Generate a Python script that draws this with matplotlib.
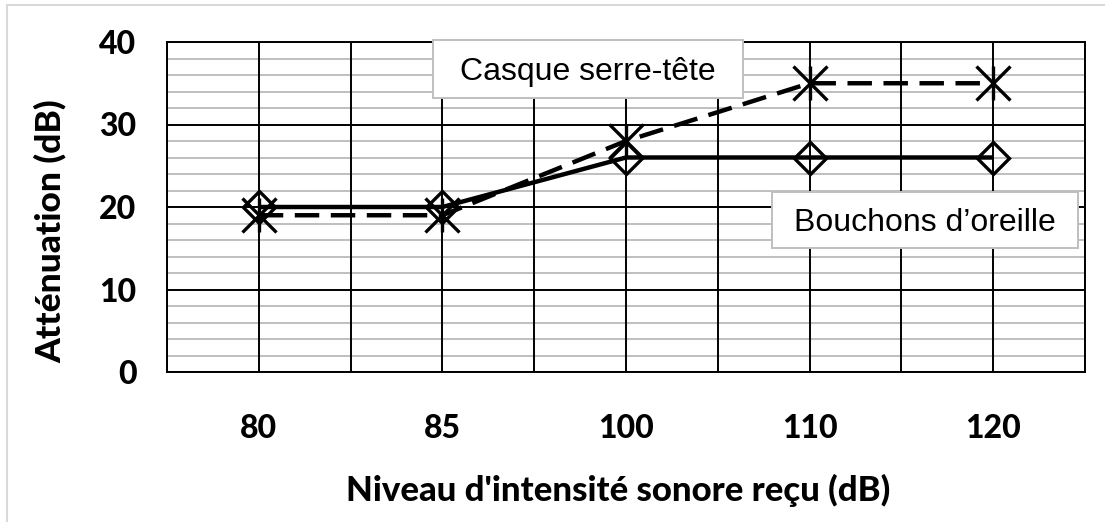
import matplotlib
matplotlib.use("Agg")
import matplotlib.pyplot as plt
from matplotlib.patches import Rectangle
from matplotlib.lines import Line2D
import numpy as np

categories = ["80", "85", "100", "110", "120"]
bouchons = [20, 20, 26, 26, 26]
casque = [19, 19, 28, 35, 35]
y_ticks = [0, 10, 20, 30, 40]
label_bouchons = "Bouchons d\u2019oreille"
label_casque = "Casque serre-tête"
x_title = "Niveau d'intensité sonore reçu (dB)"
y_title = "Atténuation (dB)"

W, H = 1105, 522
fig = plt.figure(figsize=(W / 100, H / 100), dpi=100)
L, R, B, T = 167, 1085, 372, 42
ax = fig.add_axes([L / W, 1 - B / H, (R - L) / W, (B - T) / H])

x = np.arange(len(categories))
ax.set_xlim(-0.5, len(categories) - 0.5)
ax.set_ylim(0, 40)

# grid
for yy in np.arange(0, 41, 2):
    if yy % 10 == 0:
        ax.axhline(yy, color="black", lw=1.4, zorder=2)
    else:
        ax.axhline(yy, color="#bfbfbf", lw=1.4, zorder=1)
for xx in np.arange(-0.5, len(categories), 0.5):
    ax.axvline(xx, color="black", lw=1.4, zorder=2)

for s in ax.spines.values():
    s.set_color("black")
    s.set_linewidth(1.4)

ax.plot(x, bouchons, color="black", lw=3.2, marker="D", markersize=16,
        markerfacecolor="none", markeredgecolor="black", markeredgewidth=2.4, zorder=6,
        solid_capstyle="butt")
ax.plot(x, casque, color="black", lw=3.2, linestyle=(0, (5.5, 2.6)), marker="x",
        markersize=24, markeredgewidth=2.4, zorder=6)
ax.plot(x, casque, linestyle="none", marker="|", color="black",
        markersize=24, markeredgewidth=2.4, zorder=6)

FW = 900
ax.set_xticks(x)
ax.set_xticklabels(categories)
ax.set_yticks(y_ticks)
ax.set_yticklabels([str(v) for v in y_ticks])
ax.tick_params(axis="both", length=0, labelsize=23)
ax.tick_params(axis="y", pad=22)
ax.tick_params(axis="x", pad=30)
for lab in ax.get_xticklabels() + ax.get_yticklabels():
    lab.set_fontfamily("Lato")
    lab.set_fontweight(FW)

fig.text(618 / W, 1 - 490 / H, x_title, ha="center", va="center",
         fontsize=25, fontweight=FW, family="Lato")
fig.text(50 / W, 1 - 231 / H, y_title, ha="center", va="center", rotation=90,
         fontsize=25.5, fontweight=FW, family="Lato")

# text boxes
def box(x0, x1, y0, y1, text):
    fx0, fx1 = (x0 - L) / (R - L), (x1 - L) / (R - L)
    fy0, fy1 = (B - y1) / (B - T), (B - y0) / (B - T)
    ax.add_patch(Rectangle((fx0, fy0), fx1 - fx0, fy1 - fy0, transform=ax.transAxes,
                           facecolor="white", edgecolor="#bfbfbf", lw=1.4,
                           zorder=4, clip_on=False))
    cy = (y0 + y1) / 2
    ax.text((fx0 + fx1) / 2, (B - (cy + 11)) / (B - T), text, transform=ax.transAxes,
            ha="center", va="baseline", fontsize=23, family="Liberation Sans",
            color="black", zorder=5)

box(433, 743, 40, 98, label_casque)
box(772, 1078, 192, 248, label_bouchons)

# outer chart frame (partially visible)
fig.add_artist(Line2D([7 / W, 7 / W], [1 - 5 / H, 0], transform=fig.transFigure,
                      color="#d9d9d9", lw=1.5))
fig.add_artist(Line2D([7 / W, 1], [1 - 5 / H, 1 - 5 / H], transform=fig.transFigure,
                      color="#d9d9d9", lw=1.5))

fig.savefig("out.png", dpi=100)
